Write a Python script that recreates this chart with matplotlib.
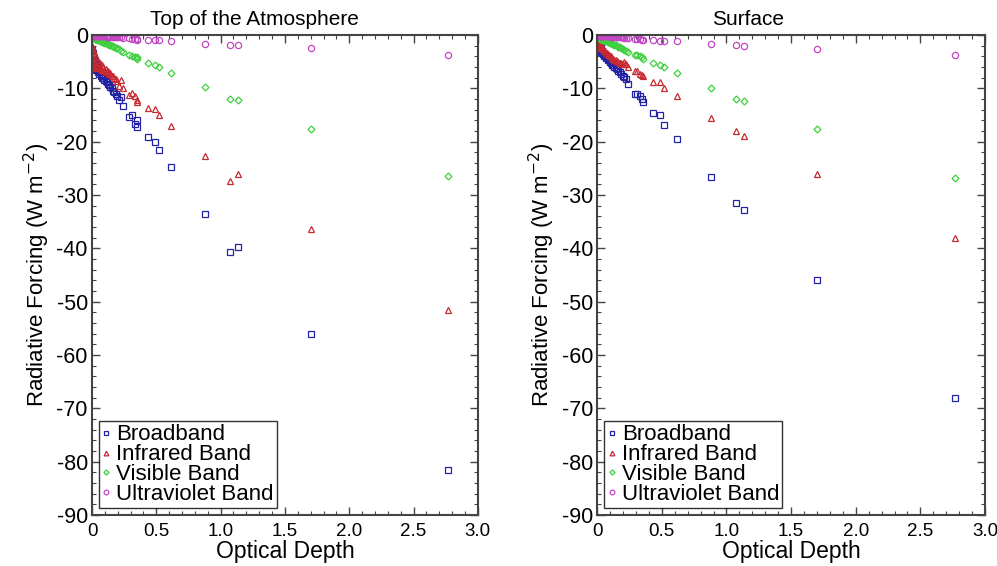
import matplotlib
matplotlib.use("Agg")
import matplotlib.pyplot as plt
from matplotlib.ticker import MultipleLocator

plt.rcParams['font.family'] = ['Liberation Sans', 'DejaVu Sans']
plt.rcParams['axes.unicode_minus'] = False

# optical depths (shared by both panels)
depth = [0.002, 0.004, 0.006, 0.008, 0.010, 0.012, 0.015, 0.018, 0.021, 0.025,
         0.029, 0.033, 0.038, 0.043, 0.048, 0.054, 0.060, 0.067, 0.074, 0.081,
         0.089, 0.097, 0.105, 0.114, 0.123, 0.132, 0.142, 0.152, 0.163, 0.174,
         0.186, 0.198,
         0.207, 0.225, 0.238, 0.29, 0.311, 0.334, 0.347, 0.352, 0.433, 0.486,
         0.52, 0.615, 0.88, 1.07, 1.137, 1.70, 2.77]

# top of the atmosphere forcing (W m-2)
toa_broad = [-2.8, -4.6, -3.3, -5.2, -3.9, -5.6, -4.4, -6.0, -4.9, -6.3,
             -5.3, -6.6, -5.8, -7.0, -6.3, -7.3, -6.8, -7.6, -7.4, -8.0,
             -8.0, -8.4, -8.6, -8.8, -9.2, -9.3, -9.8, -9.9, -10.4, -10.6,
             -11.0, -11.5,
             -12.2, -11.6, -13.3, -15.3, -15.0, -16.6, -15.9, -17.2, -19.1, -20.1,
             -21.5, -24.7, -33.6, -40.7, -39.8, -56.0, -81.5]
toa_ir = [-2.0, -5.5, -2.6, -6.2, -3.0, -5.0, -3.4, -6.0, -3.8, -5.4,
          -4.2, -5.8, -4.6, -6.0, -5.0, -6.2, -5.3, -6.4, -5.6, -6.6,
          -6.0, -6.8, -6.4, -7.0, -6.8, -7.3, -7.2, -7.6, -7.6, -8.0,
          -8.2, -8.6,
          -9.5, -8.4, -9.9, -11.2, -10.9, -11.5, -12.2, -12.6, -13.6, -13.9,
          -15.0, -17.0, -22.6, -27.3, -26.1, -36.3, -51.5]
toa_vis = [-0.3, -0.35, -0.4, -0.45, -0.5, -0.5, -0.55, -0.6, -0.65, -0.7,
           -0.75, -0.8, -0.85, -0.9, -0.95, -1.0, -1.1, -1.15, -1.2, -1.3,
           -1.35, -1.45, -1.5, -1.6, -1.7, -1.8, -1.9, -2.0, -2.1, -2.2,
           -2.35, -2.5,
           -2.7, -3.0, -3.1, -3.7, -3.9, -4.1, -4.2, -4.4, -5.2, -5.7,
           -5.9, -7.1, -9.8, -12.0, -12.1, -17.6, -26.4]
toa_uv = [-0.02, -0.03, -0.04, -0.05, -0.05, -0.06, -0.07, -0.08, -0.09, -0.1,
          -0.1, -0.12, -0.13, -0.14, -0.15, -0.16, -0.17, -0.19, -0.2, -0.21,
          -0.23, -0.24, -0.26, -0.27, -0.29, -0.3, -0.32, -0.33, -0.35, -0.36,
          -0.38, -0.4,
          -0.4, -0.45, -0.5, -0.6, -0.65, -0.7, -0.8, -0.9, -1.0, -1.0,
          -1.0, -1.2, -1.6, -1.9, -1.9, -2.5, -3.7]

# surface forcing (W m-2)
sfc_broad = [-1.0, -1.8, -1.3, -2.1, -1.6, -2.4, -1.9, -2.6, -2.2, -2.9,
             -2.5, -3.2, -2.9, -3.5, -3.3, -3.9, -3.7, -4.3, -4.2, -4.7,
             -4.7, -5.1, -5.2, -5.6, -5.7, -6.0, -6.2, -6.4, -6.7, -6.9,
             -7.3, -7.6,
             -7.9, -8.2, -9.2, -11.0, -11.1, -11.5, -11.9, -12.6, -14.6, -15.0,
             -16.8, -19.4, -26.6, -31.5, -32.8, -46.0, -68.0]
sfc_ir = [-0.6, -1.2, -0.9, -1.5, -1.1, -1.6, -1.4, -1.9, -1.7, -2.1,
          -2.0, -2.4, -2.3, -2.7, -2.6, -3.0, -2.9, -3.3, -3.3, -3.6,
          -3.7, -4.0, -4.0, -4.3, -4.4, -4.6, -4.7, -4.9, -5.0, -5.2,
          -5.3, -5.5,
          -5.1, -5.5, -5.9, -6.8, -6.8, -7.3, -7.5, -7.7, -8.8, -8.8,
          -10.0, -11.4, -15.5, -18.0, -19.0, -26.0, -38.0]
sfc_vis = [-0.2, -0.3, -0.35, -0.4, -0.45, -0.5, -0.55, -0.6, -0.65, -0.7,
           -0.75, -0.8, -0.85, -0.9, -0.95, -1.0, -1.1, -1.15, -1.2, -1.3,
           -1.35, -1.45, -1.55, -1.65, -1.75, -1.85, -1.95, -2.05, -2.15, -2.3,
           -2.45, -2.6,
           -2.8, -3.0, -3.1, -3.8, -3.8, -3.9, -4.1, -4.4, -5.2, -5.6,
           -5.9, -7.1, -9.9, -12.0, -12.4, -17.7, -26.8]
sfc_uv = [-0.02, -0.03, -0.04, -0.05, -0.06, -0.07, -0.08, -0.09, -0.1, -0.11,
          -0.12, -0.13, -0.14, -0.15, -0.16, -0.17, -0.18, -0.2, -0.21, -0.23,
          -0.25, -0.26, -0.28, -0.3, -0.32, -0.33, -0.35, -0.37, -0.39, -0.41,
          -0.43, -0.45,
          -0.5, -0.5, -0.55, -0.7, -0.75, -0.8, -0.85, -0.9, -1.0, -1.1,
          -1.1, -1.2, -1.6, -1.9, -2.0, -2.7, -3.8]

labels = ['Broadband', 'Infrared Band', 'Visible Band', 'Ultraviolet Band']
markers = ['s', '^', 'D', 'o']
colors = ['#2323a6', '#c62a30', '#3fcf3f', '#c445c4']
sizes = [4.5, 4.5, 3.5, 4.5]

fig = plt.figure(figsize=(9.97, 5.66), dpi=100)
ax1 = fig.add_axes([0.0923, 0.090, 0.387, 0.848])
ax2 = fig.add_axes([0.599, 0.090, 0.389, 0.848])

panels = [(ax1, [toa_broad, toa_ir, toa_vis, toa_uv], 'Top of the Atmosphere', 0.42),
          (ax2, [sfc_broad, sfc_ir, sfc_vis, sfc_uv], 'Surface', 0.39)]

for ax, series, title, tx in panels:
    for vals, lab, m, c, s in zip(series, labels, markers, colors, sizes):
        ax.plot(depth, vals, linestyle='none', marker=m, markersize=s,
                markerfacecolor='none', markeredgecolor=c, markeredgewidth=0.9,
                label=lab)
    ax.set_xlim(0, 3.0)
    ax.set_ylim(-90, 0)
    ax.xaxis.set_minor_locator(MultipleLocator(0.1))
    ax.yaxis.set_major_locator(MultipleLocator(10))
    ax.yaxis.set_minor_locator(MultipleLocator(2))
    ax.set_xticks([0, 0.5, 1.0, 1.5, 2.0, 2.5, 3.0])
    ax.set_xticklabels(['0', '0.5', '1.0', '1.5', '2.0', '2.5', '3.0'])
    ax.tick_params(which='both', direction='in', top=True, right=True,
                   color='#444444')
    ax.tick_params(which='major', length=6, width=1.0)
    ax.tick_params(which='minor', length=3, width=0.8)
    ax.tick_params(axis='x', labelsize=13.5, pad=6)
    ax.tick_params(axis='y', labelsize=15.5, pad=3)
    for sp in ax.spines.values():
        sp.set_linewidth(1.5)
        sp.set_color('#444444')
    ax.set_xlabel('Optical Depth', fontsize=16.5, labelpad=0)
    ax.set_ylabel('Radiative Forcing (W m$^{-2}$)', fontsize=16, labelpad=3)
    ax.text(tx, 1.012, title, transform=ax.transAxes, ha='center', va='bottom',
            fontsize=15)
    leg = ax.legend(loc='lower left', fontsize=16, frameon=True, fancybox=False,
                    edgecolor='black', handlelength=0.4, handletextpad=0.25,
                    labelspacing=-0.05, borderpad=0.15, borderaxespad=0.3,
                    markerscale=0.75)
    leg.get_frame().set_linewidth(1.0)

fig.savefig('out.png', dpi=100)
